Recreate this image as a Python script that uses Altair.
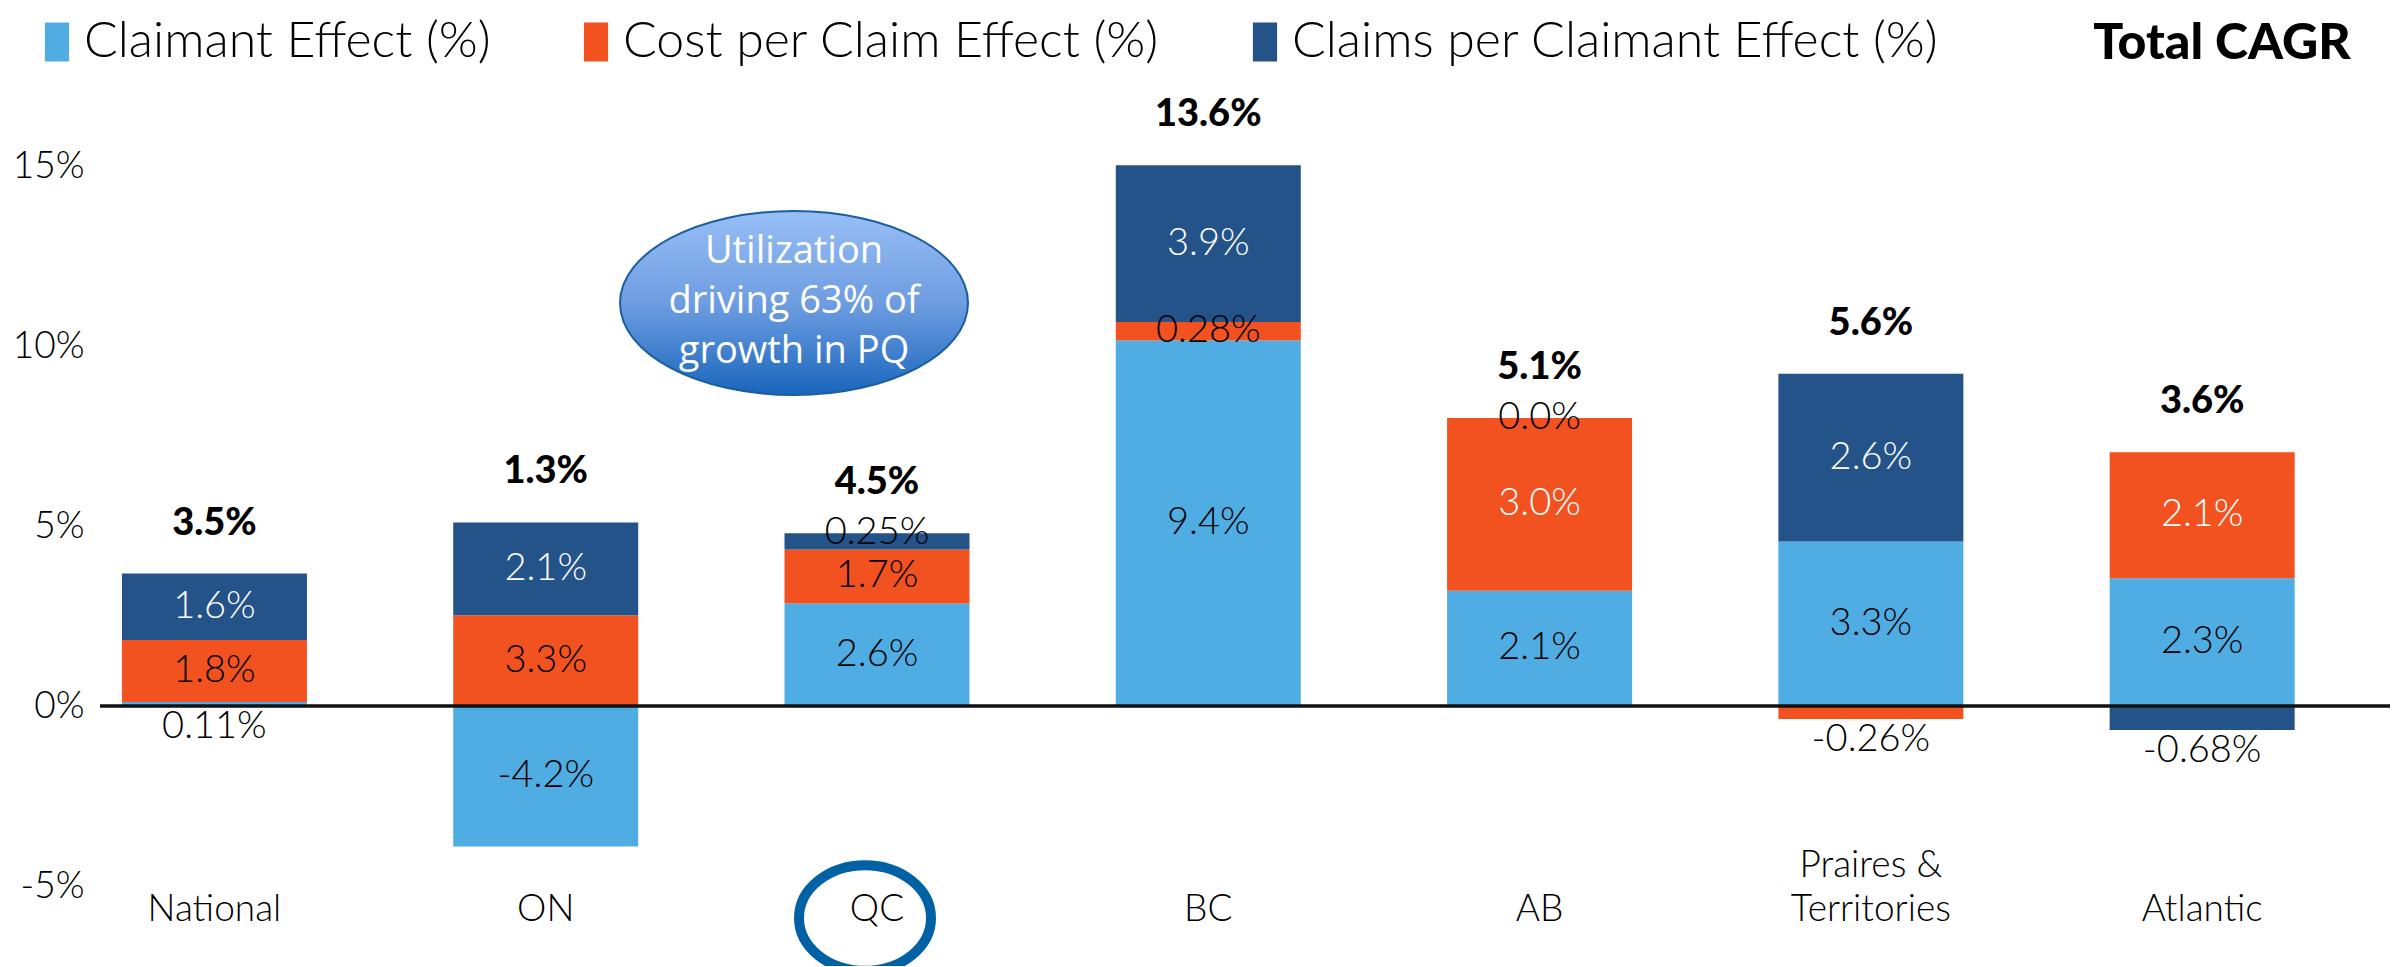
import altair as alt
import pandas as pd

# ---------------- data ----------------
regions = ["National", "ON", "QC", "BC", "AB", "Praires & Territories", "Atlantic"]
series = ["Claimant Effect (%)", "Cost per Claim Effect (%)", "Claims per Claimant Effect (%)"]
colors = ["#4FADE3", "#F1521F", "#245389"]

# bar heights as drawn (in %)
claimant_bar = [0.11, -3.9, 2.85, 10.15, 3.2, 4.57, 3.55]
cost_bar = [1.72, 2.52, 1.5, 0.52, 4.8, -0.36, 3.5]
claims_bar = [1.85, 2.58, 0.45, 4.35, 0.0, 4.66, -0.67]

# data labels as printed
claimant_lbl = ["0.11%", "-4.2%", "2.6%", "9.4%", "2.1%", "3.3%", "2.3%"]
cost_lbl = ["1.8%", "3.3%", "1.7%", "0.28%", "3.0%", "-0.26%", "2.1%"]
claims_lbl = ["1.6%", "2.1%", "0.25%", "3.9%", "0.0%", "2.6%", "-0.68%"]
total_cagr = ["3.5%", "1.3%", "4.5%", "13.6%", "5.1%", "5.6%", "3.6%"]

y_ticks = [-5, 0, 5, 10, 15]
note_text = ["Utilization", "driving 63% of", "growth in PQ"]
highlight = "QC"
legend_extra = "Total CAGR"

# ---------------- tables built from the arrays ----------------
bars = [claimant_bar, cost_bar, claims_bar]
lbls = [claimant_lbl, cost_lbl, claims_lbl]
rows, tots = [], []
for i, r in enumerate(regions):
    pos, neg = 0.0, 0.0
    seg = []
    for k, s in enumerate(series):
        v = bars[k][i]
        if v >= 0:
            y0, y1 = pos, pos + v
            pos = y1
        else:
            y0, y1 = neg, neg + v
            neg = y1
        seg.append((k, s, v, y0, y1))
    for k, s, v, y0, y1 in seg:
        thin = abs(v) < 0.8
        outside = thin and min(y0, y1) <= 0
        at_top = thin and v >= 0 and abs(y1 - pos) < 1e-9 and not outside
        white = (not outside) and ((k == 2 and abs(v) >= 1) or (k == 1 and abs(v) >= 3.4))
        ly = min(y0, y1) if outside else (y1 if at_top else (y0 + y1) / 2)
        rows.append({
            "region": r, "series": s, "order": k, "y0": y0, "y1": y1,
            "ly": ly, "label": lbls[k][i], "outside": outside, "white": white,
        })
    tots.append({"region": r, "top": pos, "label": total_cagr[i]})

df = pd.DataFrame(rows)
tot = pd.DataFrame(tots)

FONT = "Lato"
xscale = alt.Scale(paddingInner=0.4416, paddingOuter=0.177, align=0.187)
yscale = alt.Scale(domain=[-5, 15], nice=False, zero=False)

# every category label gets two lines so that "Praires & Territories" grows upward
label_expr = ("datum.label == 'Praires & Territories' ? ['Praires &', 'Territories'] "
              ": ['\u00a0', datum.label]")
X = alt.X("region:N", sort=regions, scale=xscale, title=None,
          axis=alt.Axis(domain=False, ticks=False, tickSize=0, labelAngle=0, labelFont=FONT,
                        labelFontSize=37, labelFontWeight=300, labelColor="black",
                        labelBaseline="middle", labelPadding=-21, labelLineHeight=44,
                        labelExpr=label_expr, labelLimit=0))

LEGEND_SYMBOL = "M -0.62 -1 L 0.62 -1 L 0.62 1 L -0.62 1 Z"

base = alt.Chart(df)

bar_layer = base.mark_bar().encode(
    x=X,
    y=alt.Y("y0:Q", scale=yscale, title=None,
            axis=alt.Axis(values=y_ticks, labelExpr="datum.value + '%'", domain=False,
                          ticks=False, tickSize=0, grid=False, labelFont=FONT,
                          labelFontSize=37, labelFontWeight=300, labelPadding=16,
                          labelColor="black")),
    y2="y1:Q",
    color=alt.Color("series:N", scale=alt.Scale(domain=series, range=colors),
                    legend=alt.Legend(title=None, orient="none", legendX=-68, legendY=-149,
                                      direction="horizontal", columns=3,
                                      symbolType=LEGEND_SYMBOL,
                                      symbolSize=1521, symbolStrokeWidth=0, symbolOpacity=1,
                                      labelFont=FONT, labelFontSize=50, labelFontWeight=300,
                                      labelColor="black", columnPadding=80, labelOffset=2,
                                      padding=0, labelLimit=1000)),
    order=alt.Order("order:Q"),
)

zero_rule = alt.Chart(pd.DataFrame({"zero": [0]})).mark_rule(
    color="#111111", strokeWidth=3.5).encode(y=alt.Y("zero:Q", title=None))

lab_white = base.transform_filter("datum.white").mark_text(
    font=FONT, fontSize=38, fontWeight=300, baseline="middle", color="white").encode(
    x=alt.X("region:N", sort=regions), y=alt.Y("ly:Q", title=None), text="label:N")

lab_black = base.transform_filter("!datum.white && !datum.outside").mark_text(
    font=FONT, fontSize=38, fontWeight=300, baseline="middle", color="black").encode(
    x=alt.X("region:N", sort=regions), y=alt.Y("ly:Q", title=None), text="label:N")

lab_out = base.transform_filter("datum.outside").mark_text(
    font=FONT, fontSize=38, fontWeight=300, baseline="top", dy=2, color="black").encode(
    x=alt.X("region:N", sort=regions), y=alt.Y("ly:Q", title=None), text="label:N")

tot_layer = alt.Chart(tot).mark_text(
    font=FONT, fontSize=38, fontWeight=900, baseline="middle", dy=-50, color="black").encode(
    x=alt.X("region:N", sort=regions), y=alt.Y("top:Q", title=None), text="label:N")

legend_total = alt.Chart(pd.DataFrame({"t": [legend_extra]})).mark_text(
    font=FONT, fontSize=50, fontWeight=900, baseline="middle", align="center", color="black"
).encode(x=alt.value(2122), y=alt.value(-122), text="t:N")


def ellipse_path(b):
    k = 0.5523
    kb = k * b
    return (f"M 1 0 C 1 {kb} {k} {b} 0 {b} C {-k} {b} -1 {kb} -1 0 "
            f"C -1 {-kb} {-k} {-b} 0 {-b} C {k} {-b} 1 {-kb} 1 0 Z")


grad = alt.Gradient(gradient="linear", x1=0, y1=0, x2=0, y2=1,
                    stops=[alt.GradientStop(color="#98BFF6", offset=0),
                           alt.GradientStop(color="#6E9DE1", offset=0.5),
                           alt.GradientStop(color="#1966BC", offset=1)])

note_shape = alt.Chart(pd.DataFrame({"n": [1]})).mark_point(
    shape=ellipse_path(0.529), size=348 ** 2, filled=True, fill=grad, stroke="#1A5E9E",
    strokeWidth=2, opacity=1, fillOpacity=1).encode(x=alt.value(694), y=alt.value(137))

note_label = alt.Chart(pd.DataFrame({"t": ["\n".join(note_text)]})).mark_text(
    font="Open Sans", fontSize=38, lineBreak="\n", lineHeight=50, color="white",
    align="center", baseline="middle").encode(x=alt.value(694), y=alt.value(86), text="t:N")

ring = alt.Chart(pd.DataFrame({"region": [highlight]})).mark_point(
    shape=ellipse_path(0.8), size=132 ** 2, filled=False, stroke="#0061A5", strokeWidth=10,
    opacity=1, xOffset=-12).encode(x=alt.X("region:N", sort=regions), y=alt.value(752))

chart = alt.layer(
    bar_layer, zero_rule, lab_white, lab_black, lab_out, tot_layer,
    legend_total, note_shape, note_label, ring
).properties(
    width=2290, height=720,
    autosize=alt.AutoSizeParams(type="none"),
    padding={"left": 92, "top": 158, "right": 0, "bottom": 80},
    background="white",
).configure_view(stroke=None)

chart.save("out.html", embed_options={"renderer": "svg", "actions": False})
